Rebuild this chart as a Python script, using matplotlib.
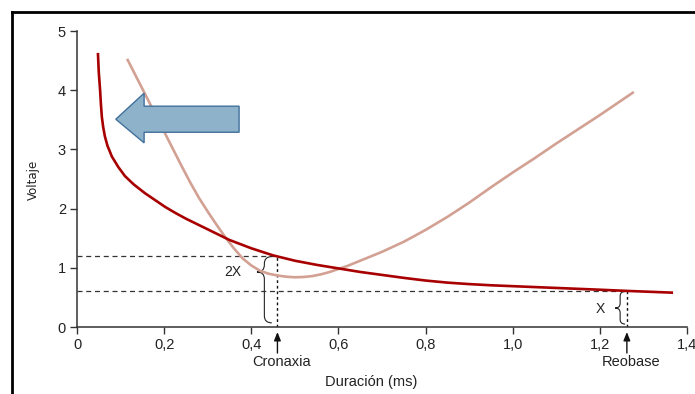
import matplotlib
matplotlib.use('Agg')
import matplotlib.pyplot as plt
from matplotlib.path import Path
from matplotlib.patches import PathPatch, Polygon
from matplotlib.lines import Line2D
import matplotlib.transforms as mtransforms

plt.rcParams['font.family'] = ['Liberation Sans', 'DejaVu Sans']

# Strength-duration curve (dark red)
dur_x = [0.048, 0.050, 0.053, 0.055, 0.057, 0.060, 0.064, 0.070, 0.080, 0.095,
         0.110, 0.130, 0.156, 0.180, 0.202, 0.225, 0.250, 0.300, 0.350, 0.400,
         0.450, 0.500, 0.550, 0.600, 0.650, 0.700, 0.750, 0.800, 0.850, 0.900,
         0.950, 1.000, 1.100, 1.200, 1.262, 1.368]
dur_y = [4.63, 4.30, 4.00, 3.75, 3.55, 3.38, 3.22, 3.06, 2.88, 2.70,
         2.55, 2.41, 2.26, 2.14, 2.03, 1.93, 1.83, 1.65, 1.47, 1.33,
         1.21, 1.12, 1.05, 0.99, 0.93, 0.88, 0.83, 0.785, 0.75, 0.725,
         0.705, 0.69, 0.66, 0.63, 0.61, 0.58]

# Second curve (light)
lt_x = [0.115, 0.160, 0.200, 0.240, 0.260, 0.280, 0.300, 0.320, 0.340, 0.360,
        0.380, 0.400, 0.420, 0.440, 0.460, 0.480, 0.500, 0.520, 0.540, 0.560,
        0.580, 0.600, 0.620, 0.640, 0.660, 0.680, 0.700, 0.750, 0.800, 0.850,
        0.900, 0.950, 1.000, 1.050, 1.100, 1.150, 1.200, 1.240, 1.278]
lt_y = [4.53, 3.88, 3.30, 2.72, 2.44, 2.18, 1.95, 1.73, 1.52, 1.33,
        1.16, 1.04, 0.95, 0.90, 0.87, 0.85, 0.84, 0.845, 0.86, 0.89,
        0.93, 0.98, 1.03, 1.09, 1.15, 1.21, 1.27, 1.44, 1.64, 1.86,
        2.10, 2.36, 2.61, 2.85, 3.10, 3.34, 3.58, 3.78, 3.97]

xticks = [0, 0.2, 0.4, 0.6, 0.8, 1.0, 1.2, 1.4]
xtick_labels = ['0', '0,2', '0,4', '0,6', '0,8', '1,0', '1,2', '1,4']
yticks = [0, 1, 2, 3, 4, 5]

cronaxia_x, cronaxia_y = 0.46, 1.2
reobase_x, reobase_y = 1.262, 0.61

fig = plt.figure(figsize=(6.95, 3.94), dpi=100)
ax = fig.add_axes([0.1108, 0.170, 0.8777, 0.7513])

dark = '#A80000'
light = '#D3A193'
gray = '#333333'

ax.plot(dur_x, dur_y, color=dark, lw=1.9, solid_capstyle='butt', solid_joinstyle='round', zorder=4)
ax.plot(lt_x, lt_y, color=light, lw=1.9, solid_capstyle='butt', solid_joinstyle='round', zorder=3)

# dashed reference lines
ax.plot([0, cronaxia_x], [cronaxia_y, cronaxia_y], ls=(0, (4, 3)), color=gray, lw=0.9)
ax.plot([0, reobase_x], [reobase_y, reobase_y], ls=(0, (4, 3)), color=gray, lw=0.9)
ax.plot([cronaxia_x, cronaxia_x], [0, cronaxia_y], ls=(0, (2, 2)), color='#111111', lw=1.0)
ax.plot([reobase_x, reobase_x], [0, reobase_y], ls=(0, (2, 2)), color='#111111', lw=1.0)


def brace(xr, xt, yt, ym, yb, d):
    xc = (xr + xt) / 2
    verts = [(xr, yt), (xc, yt), (xc, yt - d),
             (xc, ym + d), (xc, ym), (xt, ym),
             (xc, ym), (xc, ym - d),
             (xc, yb + d), (xc, yb), (xr, yb)]
    codes = [Path.MOVETO, Path.CURVE3, Path.CURVE3,
             Path.LINETO, Path.CURVE3, Path.CURVE3,
             Path.CURVE3, Path.CURVE3,
             Path.LINETO, Path.CURVE3, Path.CURVE3]
    ax.add_patch(PathPatch(Path(verts, codes), fill=False, lw=0.8, color='#222222'))


brace(0.447, 0.413, 1.19, 0.93, 0.07, 0.12)
brace(1.258, 1.235, 0.60, 0.32, 0.05, 0.08)
ax.text(0.358, 0.93, '2X', fontsize=10, ha='center', va='center', color='#222222')
ax.text(1.200, 0.31, 'X', fontsize=10, ha='center', va='center', color='#222222')

# arrows below the axis
for xv, lab in [(cronaxia_x, 'Cronaxia'), (reobase_x, 'Reobase')]:
    ax.annotate('', xy=(xv, 0), xytext=(0, -26), textcoords='offset pixels',
                annotation_clip=False,
                arrowprops=dict(arrowstyle='-|>,head_length=0.5,head_width=0.2',
                                color='#111111', lw=1.0, shrinkA=0, shrinkB=3.6))
    tr = ax.transData + mtransforms.ScaledTranslation(4 / 100, -35 / 100, fig.dpi_scale_trans)
    ax.text(xv, 0, lab, transform=tr, fontsize=10.5, ha='center', va='center', color='#222222')

# big blue arrow
arrow_pts = [(0.089, 3.51), (0.154, 3.95), (0.154, 3.73), (0.372, 3.73),
             (0.372, 3.29), (0.154, 3.29), (0.154, 3.11)]
ax.add_patch(Polygon(arrow_pts, closed=True, facecolor='#8DB2C9', edgecolor='#41719C',
                     lw=1.0, zorder=5))

ax.set_xlim(0, 1.4)
ax.set_ylim(0, 5)
ax.set_xticks(xticks)
ax.set_xticklabels(xtick_labels)
ax.set_yticks(yticks)
for s in ['top', 'right']:
    ax.spines[s].set_visible(False)
for s in ['left', 'bottom']:
    ax.spines[s].set_color(gray)
    ax.spines[s].set_linewidth(1.1)
ax.tick_params(direction='out', length=5, width=1, color=gray, labelsize=10.5,
               labelcolor='#222222', pad=3)

fig.text(371 / 695, 1 - 382 / 394, 'Duración (ms)', fontsize=10.5, ha='center', va='center',
         color='#222222')
fig.text(33 / 695, 1 - 180 / 394, 'Voltaje', fontsize=8.5, rotation=90, ha='center',
         va='center', color='#222222', family=['Liberation Sans Narrow', 'DejaVu Sans'])

# frame lines (top and left)
fig.add_artist(Line2D([12 / 695, 1], [1 - 12 / 394, 1 - 12 / 394], color='black', lw=2,
                      transform=fig.transFigure))
fig.add_artist(Line2D([12 / 695, 12 / 695], [0, 1 - 12 / 394], color='black', lw=2,
                      transform=fig.transFigure))

fig.savefig('out.png', dpi=100)
